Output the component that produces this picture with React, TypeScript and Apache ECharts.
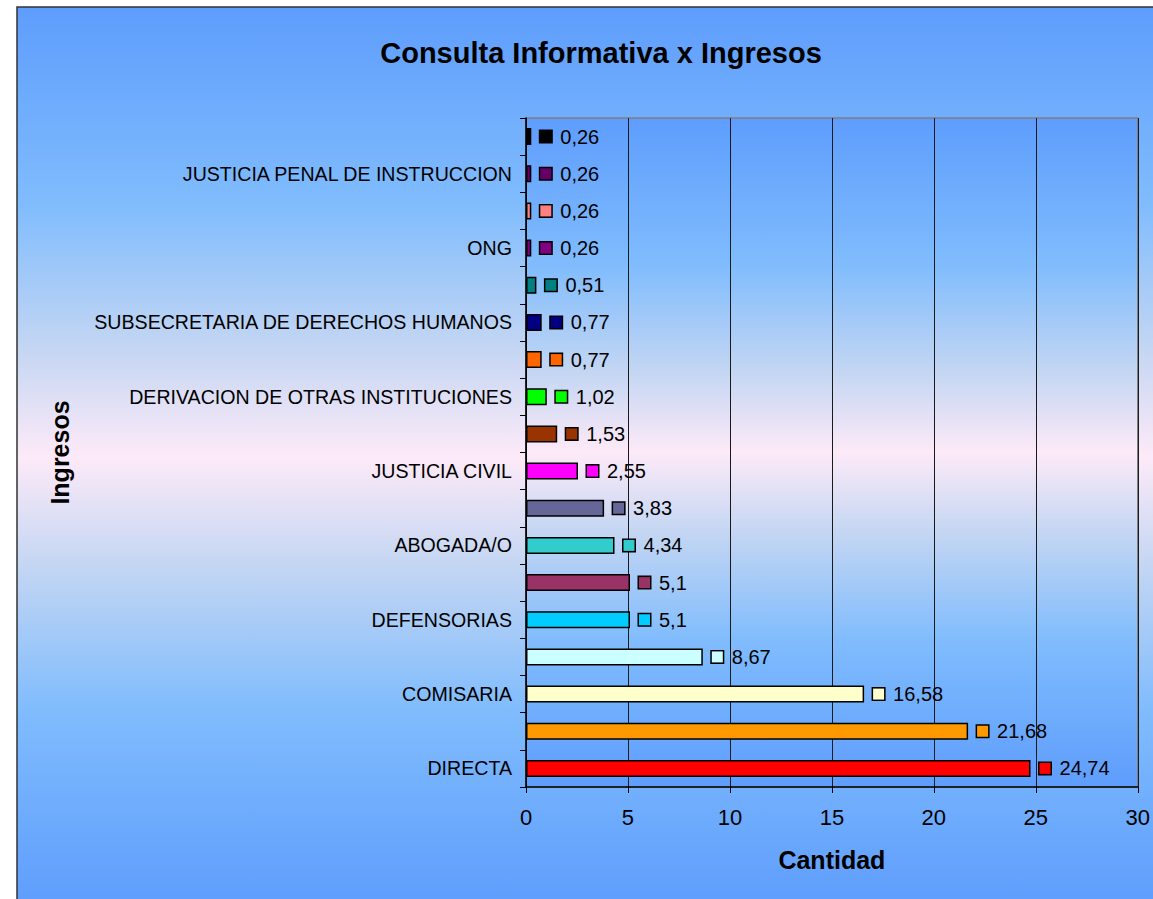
import React, { useEffect, useRef } from "react";
import * as echarts from "echarts";

const categories = [
  "DIRECTA", "", "COMISARIA", "", "DEFENSORIAS", "", "ABOGADA/O", "",
  "JUSTICIA CIVIL", "", "DERIVACION DE OTRAS INSTITUCIONES", "",
  "SUBSECRETARIA DE DERECHOS HUMANOS", "", "ONG", "",
  "JUSTICIA PENAL DE INSTRUCCION", "",
];
const values = [
  24.74, 21.68, 16.58, 8.67, 5.1, 5.1, 4.34, 3.83, 2.55, 1.53, 1.02, 0.77,
  0.77, 0.51, 0.26, 0.26, 0.26, 0.26,
];
const barColors = [
  "#ff0000", "#ff9900", "#ffffcc", "#ccffff", "#00ccff", "#993366",
  "#33cccc", "#666699", "#ff00ff", "#993300", "#00ff00", "#ff6600",
  "#000080", "#008080", "#800080", "#ff8080", "#660066", "#000000",
];
const xTicks = { min: 0, max: 30, interval: 5 };

const FONT = "'Liberation Sans', Arial, sans-serif";

const bgStops = [
  { offset: 0, color: "#5e9dfd" },
  { offset: 0.22, color: "#80bcfd" },
  { offset: 0.38, color: "#c4d6f3" },
  { offset: 0.5, color: "#fdeaf8" },
  { offset: 0.62, color: "#c4d6f3" },
  { offset: 0.78, color: "#80bcfd" },
  { offset: 1, color: "#5e9dfd" },
];

export default function App() {
  const ref = useRef<HTMLDivElement>(null);
  useEffect(() => {
    if (!ref.current) return;
    const chart = echarts.init(ref.current, undefined, { renderer: "svg" });
    const rich: Record<string, any> = {
      v: { fontSize: 20, fontFamily: FONT, color: "#000", padding: [0, 0, 0, 9] },
    };
    barColors.forEach((c, i) => {
      rich["s" + i] = {
        width: 11,
        height: 11,
        backgroundColor: c,
        borderColor: "#000",
        borderWidth: 1.5,
      };
    });
    chart.setOption({
      animation: false,
      graphic: [
        {
          type: "rect",
          z: -100,
          silent: true,
          shape: { x: 17, y: 7, width: 1150, height: 900 },
          style: {
            fill: new echarts.graphic.LinearGradient(0, 0, 0, 1, bgStops),
            stroke: "#333",
            lineWidth: 1.5,
          },
        },
      ],
      title: {
        text: "Consulta Informativa x Ingresos",
        left: 596,
        top: 33,
        textAlign: "center",
        textStyle: { fontFamily: FONT, fontSize: 29, fontWeight: "bold", color: "#000" },
      },
      grid: {
        left: 526,
        right: 15,
        top: 118,
        bottom: 112,
        show: true,
        backgroundColor: new echarts.graphic.LinearGradient(0, 0, 0, 1, bgStops),
        borderColor: "#7f7f7f",
        borderWidth: 1.5,
      },
      xAxis: {
        type: "value",
        min: xTicks.min,
        max: xTicks.max,
        interval: xTicks.interval,
        name: "Cantidad",
        nameLocation: "middle",
        nameGap: 60,
        nameTextStyle: { fontFamily: FONT, fontSize: 25, fontWeight: "bold", color: "#000" },
        axisLine: { show: true, lineStyle: { color: "#000", width: 1.5 } },
        axisTick: { show: true, length: 6, lineStyle: { color: "#000" } },
        axisLabel: { fontFamily: FONT, fontSize: 22, color: "#000", margin: 19 },
        splitLine: { show: true, lineStyle: { color: "#1a1a1a", width: 1 } },
      },
      yAxis: {
        type: "category",
        data: categories,
        name: "Ingresos",
        nameLocation: "middle",
        nameGap: 454,
        nameRotate: 90,
        nameTextStyle: { fontFamily: FONT, fontSize: 25, fontWeight: "bold", color: "#000" },
        axisLine: { show: true, lineStyle: { color: "#000", width: 1.5 } },
        axisTick: { show: true, length: 6, interval: 0, lineStyle: { color: "#000" } },
        axisLabel: { interval: 1, fontFamily: FONT, fontSize: 19.6, color: "#000", margin: 14 },
        splitLine: { show: false },
      },
      series: [
        {
          type: "bar",
          barWidth: 17,
          data: values.map((v, i) => ({ value: v, itemStyle: { color: barColors[i] } })),
          itemStyle: { borderColor: "#000", borderWidth: 1.5 },
          label: {
            show: true,
            position: "right",
            distance: 9,
            formatter: (p: any) =>
              `{s${p.dataIndex}|}{v|${String(p.value).replace(".", ",")}}`,
            rich,
          },
        },
      ],
    });
    return () => chart.dispose();
  }, []);
  return (
    <div
      ref={ref}
      style={{ position: "fixed", left: 0, top: 0, width: 1153, height: 899, background: "#fff" }}
    />
  );
}
